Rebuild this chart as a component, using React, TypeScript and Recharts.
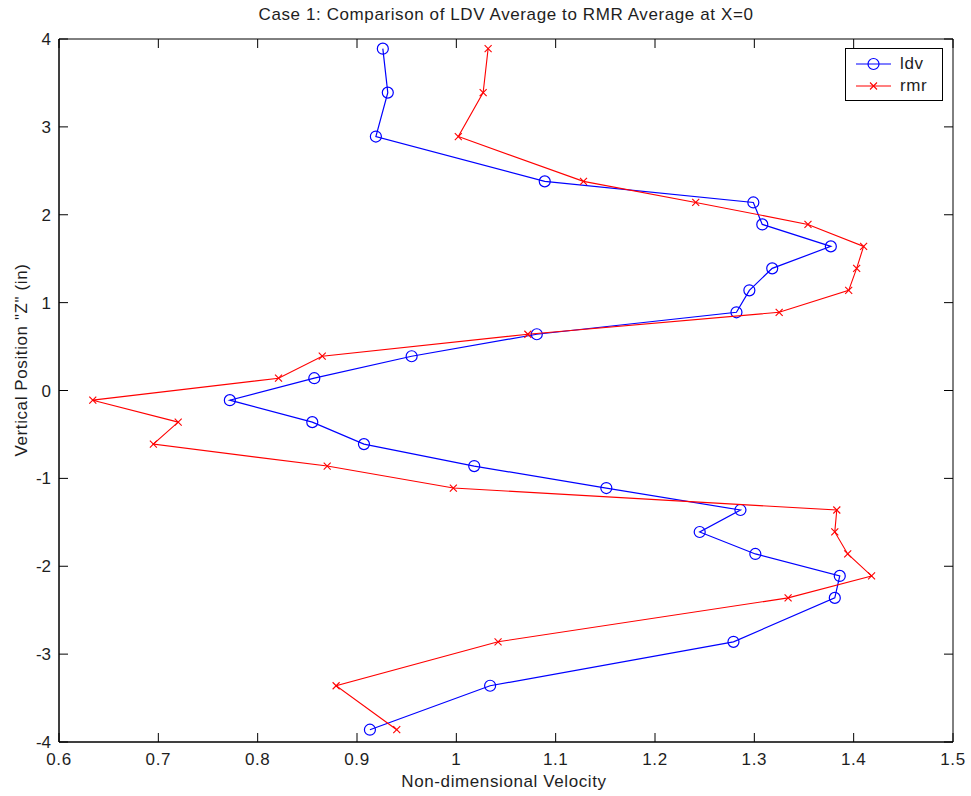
import React from 'react';
import { ScatterChart, Scatter, XAxis, YAxis, ReferenceArea, Legend } from 'recharts';

const zPositions = [3.89, 3.39, 2.89, 2.38, 2.14, 1.89, 1.64, 1.39, 1.14, 0.89, 0.64, 0.39, 0.14, -0.11, -0.36, -0.61, -0.86, -1.11, -1.36, -1.61, -1.86, -2.11, -2.36, -2.86, -3.36, -3.86];
const ldvVelocity = [0.926, 0.931, 0.919, 1.089, 1.299, 1.308, 1.377, 1.318, 1.295, 1.282, 1.081, 0.955, 0.857, 0.772, 0.855, 0.907, 1.018, 1.151, 1.286, 1.245, 1.301, 1.386, 1.381, 1.279, 1.034, 0.913];
const rmrVelocity = [1.032, 1.027, 1.002, 1.128, 1.241, 1.354, 1.41, 1.403, 1.395, 1.325, 1.072, 0.865, 0.821, 0.634, 0.72, 0.695, 0.87, 0.997, 1.383, 1.381, 1.394, 1.418, 1.334, 1.042, 0.879, 0.94];
const xTicks = [0.6, 0.7, 0.8, 0.9, 1, 1.1, 1.2, 1.3, 1.4, 1.5];
const yTicks = [-4, -3, -2, -1, 0, 1, 2, 3, 4];
const seriesNames = ['ldv', 'rmr'];
const titleText = 'Case 1: Comparison of LDV Average to RMR Average at X=0';
const xLabelText = 'Non-dimensional Velocity';
const yLabelText = 'Vertical Position "Z" (in)';

const ldvData = zPositions.map((z, i) => ({ v: ldvVelocity[i], z }));
const rmrData = zPositions.map((z, i) => ({ v: rmrVelocity[i], z }));

const W = 971;
const H = 796;
const LEFT = 59;
const RIGHT = 953;
const TOP = 39;
const BOTTOM = 742;
const TICK = 9;
const FONT = '"Liberation Sans", Arial, Helvetica, sans-serif';
const BLUE = '#0000ff';
const RED = '#ff0000';
const TEXT = '#1e1e1e';

const XTick = (props: any) => {
  const { x, payload } = props;
  return (
    <g>
      <line x1={x} x2={x} y1={BOTTOM} y2={BOTTOM - TICK} stroke="#000" />
      <line x1={x} x2={x} y1={TOP} y2={TOP + TICK} stroke="#000" />
      <text x={x} y={765} textAnchor="middle" fontFamily={FONT} fontSize={17} fill={TEXT} letterSpacing={0.6}>
        {String(payload.value)}
      </text>
    </g>
  );
};

const YTick = (props: any) => {
  const { y, payload } = props;
  return (
    <g>
      <line x1={LEFT} x2={LEFT + TICK} y1={y} y2={y} stroke="#000" />
      <line x1={RIGHT} x2={RIGHT - TICK} y1={y} y2={y} stroke="#000" />
      <text x={51} y={y + 6} textAnchor="end" fontFamily={FONT} fontSize={17} fill={TEXT}>
        {String(payload.value)}
      </text>
    </g>
  );
};

const CircleMarker = (props: any) => {
  const { cx, cy } = props;
  if (cx == null || cy == null) return null;
  return <circle cx={cx} cy={cy} r={5.5} fill="none" stroke={BLUE} strokeWidth={1.2} />;
};

const CrossMarker = (props: any) => {
  const { cx, cy } = props;
  if (cx == null || cy == null) return null;
  const s = 3.5;
  return (
    <g stroke={RED} strokeWidth={1.1}>
      <line x1={cx - s} y1={cy - s} x2={cx + s} y2={cy + s} />
      <line x1={cx - s} y1={cy + s} x2={cx + s} y2={cy - s} />
    </g>
  );
};

const LegendBox = () => (
  <div
    style={{
      width: 98,
      height: 53,
      boxSizing: 'border-box',
      border: '1px solid #000',
      background: '#fff',
      position: 'relative',
      fontFamily: FONT,
      fontSize: 17,
      color: TEXT,
    }}
  >
    {seriesNames.map((name, i) => (
      <div key={name} style={{ position: 'absolute', left: 0, top: 4 + i * 22, height: 22, width: 98 }}>
        <svg width={46} height={22} style={{ position: 'absolute', left: 8, top: 0 }}>
          <line x1={2} x2={37} y1={11} y2={11} stroke={i === 0 ? BLUE : RED} strokeWidth={1.2} />
          {i === 0 ? (
            <circle cx={19.5} cy={11} r={5.5} fill="none" stroke={BLUE} strokeWidth={1.2} />
          ) : (
            <g stroke={RED} strokeWidth={1.1}>
              <line x1={16} y1={7.5} x2={23} y2={14.5} />
              <line x1={16} y1={14.5} x2={23} y2={7.5} />
            </g>
          )}
        </svg>
        <span style={{ position: 'absolute', left: 54, top: 1, lineHeight: '20px', letterSpacing: 0.6 }}>{name}</span>
      </div>
    ))}
  </div>
);

export default function App() {
  return (
    <div style={{ position: 'absolute', left: 0, top: 0, width: W, height: H, background: '#fff' }}>
      <ScatterChart width={W} height={H} margin={{ top: TOP, right: W - RIGHT, bottom: 14, left: 9 }}>
        <XAxis
          type="number"
          dataKey="v"
          domain={[0.6, 1.5]}
          ticks={xTicks}
          interval={0}
          allowDataOverflow
          height={40}
          tickLine={false}
          axisLine={{ stroke: '#000' }}
          tick={<XTick />}
        />
        <YAxis
          type="number"
          dataKey="z"
          domain={[-4, 4]}
          ticks={yTicks}
          interval={0}
          allowDataOverflow
          width={50}
          tickLine={false}
          axisLine={{ stroke: '#000' }}
          tick={<YTick />}
        />
        <ReferenceArea x1={0.6} x2={1.5} y1={-4} y2={4} fill="none" fillOpacity={0} stroke="#000" strokeWidth={1} />
        <Scatter
          name={seriesNames[0]}
          data={ldvData}
          line={{ stroke: BLUE, strokeWidth: 1.2 }}
          lineType="joint"
          shape={<CircleMarker />}
          isAnimationActive={false}
        />
        <Scatter
          name={seriesNames[1]}
          data={rmrData}
          line={{ stroke: RED, strokeWidth: 1.1 }}
          lineType="joint"
          shape={<CrossMarker />}
          isAnimationActive={false}
        />
        <Legend
          layout="horizontal"
          verticalAlign="middle"
          align="center"
          content={<LegendBox />}
          wrapperStyle={{ position: 'absolute', left: 845, top: 48, width: 98, height: 53 }}
        />
      </ScatterChart>
      <div
        style={{
          position: 'absolute',
          left: 506,
          top: 15,
          transform: 'translate(-50%, -50%)',
          whiteSpace: 'nowrap',
          fontFamily: FONT,
          fontSize: 17,
          letterSpacing: 0.6,
          color: TEXT,
        }}
      >
        {titleText}
      </div>
      <div
        style={{
          position: 'absolute',
          left: 504,
          top: 782,
          transform: 'translate(-50%, -50%)',
          whiteSpace: 'nowrap',
          fontFamily: FONT,
          fontSize: 17,
          letterSpacing: 0.6,
          color: TEXT,
        }}
      >
        {xLabelText}
      </div>
      <div
        style={{
          position: 'absolute',
          left: 22,
          top: 360,
          transform: 'translate(-50%, -50%) rotate(-90deg)',
          whiteSpace: 'nowrap',
          fontFamily: FONT,
          fontSize: 17,
          letterSpacing: 0.6,
          color: TEXT,
        }}
      >
        {yLabelText}
      </div>
    </div>
  );
}
